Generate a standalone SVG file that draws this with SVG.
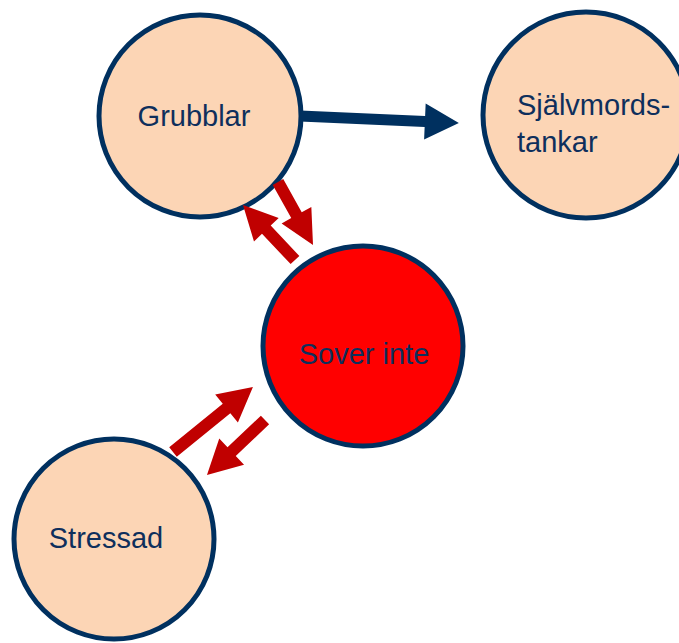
<svg xmlns="http://www.w3.org/2000/svg" width="679" height="643" viewBox="0 0 679 643">
  <style>
    .node { fill: #FCD5B5; stroke: #00305F; stroke-width: 5; }
    .hot { fill: #FF0000; stroke: #00305F; stroke-width: 5; }
    .label { font-family: "Liberation Sans", Arial, sans-serif; font-size: 29px; fill: #0E2F5C; }
    .mid { text-anchor: middle; }
    .red { fill: #C00000; }
    .blue { fill: #00305F; }
  </style>
  <rect width="679" height="643" fill="#FFFFFF"/>

  <g id="grubblar">
    <circle class="node" cx="200" cy="116" r="101"/>
    <text class="label mid" x="194" y="126">Grubblar</text>
  </g>

  <g id="sjalvmordstankar">
    <circle class="node" cx="586" cy="115" r="103"/>
    <text class="label" x="517" y="115">Självmords-</text>
    <text class="label" x="517" y="152">tankar</text>
  </g>

  <g id="sover-inte">
    <circle class="hot" cx="363" cy="346" r="100"/>
    <text class="label mid" x="364" y="364">Sover inte</text>
  </g>

  <g id="stressad">
    <circle class="node" cx="114" cy="539" r="100"/>
    <text class="label mid" x="106" y="548">Stressad</text>
  </g>

  <g id="connectors">
    <!-- Grubblar to Självmordstankar -->
    <polygon class="blue" transform="translate(300,116) rotate(2.5)" points="0,-5.5 125,-5.5 125,-18 159,0 125,18 125,5.5 0,5.5"/>
    <!-- Grubblar to Sover inte -->
    <polygon class="red" transform="translate(278,182) rotate(60.9)" points="0,-6 38,-6 38,-17 72,0 38,17 38,6 0,6"/>
    <!-- Sover inte to Grubblar -->
    <polygon class="red" transform="translate(295,260) rotate(-133.4)" points="0,-6 41.7,-6 41.7,-17 75.7,0 41.7,17 41.7,6 0,6"/>
    <!-- Stressad to Sover inte -->
    <polygon class="red" transform="translate(173,452) rotate(-39.1)" points="0,-6 69,-6 69,-18 103,0 69,18 69,6 0,6"/>
    <!-- Sover inte to Stressad -->
    <polygon class="red" transform="translate(265,420) rotate(136.5)" points="0,-6 46,-6 46,-18 80,0 46,18 46,6 0,6"/>
  </g>
</svg>
